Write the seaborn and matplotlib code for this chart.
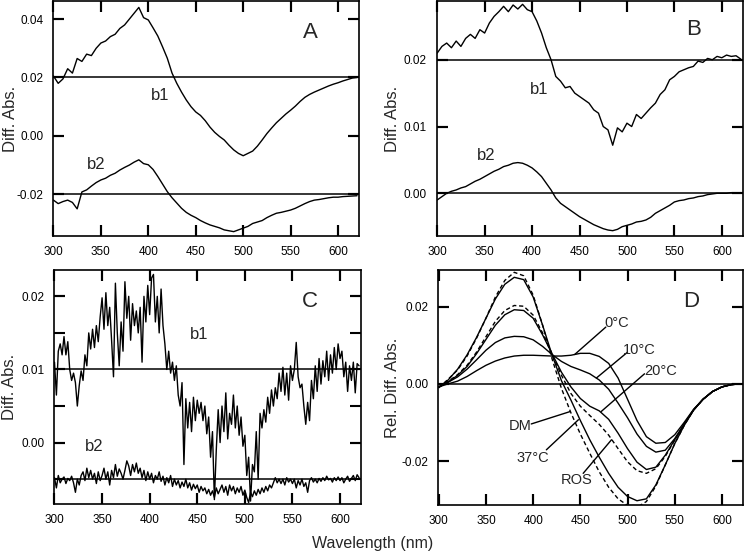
import numpy as np
import pandas as pd
import matplotlib
matplotlib.use("Agg")
import matplotlib.pyplot as plt
from matplotlib.ticker import MultipleLocator, FixedLocator, FormatStrFormatter
import seaborn as sns

# ---- data ----
wl5 = list(range(300, 621, 5))    # panels A, B
wl2 = list(range(300, 621, 2))    # panel C
wl10 = list(range(300, 621, 10))  # panel D

a_b1 = [0.0205, 0.0180, 0.0195, 0.0230, 0.0215, 0.0265, 0.0255, 0.0280, 0.0275, 0.0300,
        0.0318, 0.0325, 0.0340, 0.0348, 0.0368, 0.0380, 0.0400, 0.0420, 0.0440, 0.0405,
        0.0397, 0.0370, 0.0342, 0.0305, 0.0266, 0.0215, 0.0180, 0.0150, 0.0123, 0.0100,
        0.0082, 0.0070, 0.0052, 0.0030, 0.0012, -0.0002, -0.0014, -0.0032, -0.0048, -0.0060,
        -0.0068, -0.0060, -0.0052, -0.0035, -0.0014, 0.0008, 0.0027, 0.0045, 0.0060, 0.0075,
        0.0088, 0.0102, 0.0118, 0.0132, 0.0142, 0.0150, 0.0157, 0.0164, 0.0171, 0.0177,
        0.0182, 0.0188, 0.0193, 0.0198, 0.0200]
a_b2 = [-0.0220, -0.0232, -0.0225, -0.0220, -0.0228, -0.0250, -0.0192, -0.0185, -0.0172, -0.0160,
        -0.0151, -0.0145, -0.0135, -0.0128, -0.0117, -0.0108, -0.0100, -0.0090, -0.0082, -0.0095,
        -0.0099, -0.0115, -0.0139, -0.0165, -0.0191, -0.0212, -0.0230, -0.0248, -0.0262, -0.0272,
        -0.0280, -0.0290, -0.0298, -0.0305, -0.0310, -0.0315, -0.0322, -0.0325, -0.0328, -0.0322,
        -0.0316, -0.0310, -0.0300, -0.0295, -0.0290, -0.0280, -0.0272, -0.0265, -0.0262, -0.0258,
        -0.0254, -0.0248, -0.0240, -0.0232, -0.0225, -0.0220, -0.0218, -0.0215, -0.0212, -0.0210,
        -0.0210, -0.0208, -0.0207, -0.0206, -0.0205]

b_b1 = [0.0210, 0.0220, 0.0225, 0.0218, 0.0228, 0.0220, 0.0232, 0.0238, 0.0232, 0.0245,
        0.0240, 0.0255, 0.0265, 0.0272, 0.0280, 0.0272, 0.0282, 0.0276, 0.0283, 0.0275,
        0.0272, 0.0258, 0.0240, 0.0218, 0.0200, 0.0175, 0.0168, 0.0158, 0.0160, 0.0150,
        0.0145, 0.0140, 0.0135, 0.0125, 0.0120, 0.0100, 0.0095, 0.0072, 0.0098, 0.0092,
        0.0105, 0.0100, 0.0118, 0.0112, 0.0120, 0.0128, 0.0135, 0.0148, 0.0155, 0.0170,
        0.0175, 0.0182, 0.0185, 0.0188, 0.0190, 0.0198, 0.0196, 0.0202, 0.0200, 0.0205,
        0.0203, 0.0207, 0.0205, 0.0206, 0.0201]
b_b2 = [-0.0010, -0.0005, 0.0000, 0.0003, 0.0005, 0.0008, 0.0010, 0.0014, 0.0018, 0.0021,
        0.0025, 0.0029, 0.0033, 0.0036, 0.0040, 0.0042, 0.0045, 0.0046, 0.0045, 0.0042,
        0.0038, 0.0032, 0.0025, 0.0015, 0.0005, -0.0007, -0.0015, -0.0020, -0.0025, -0.0030,
        -0.0035, -0.0039, -0.0043, -0.0047, -0.0050, -0.0053, -0.0055, -0.0056, -0.0054, -0.0050,
        -0.0048, -0.0046, -0.0043, -0.0042, -0.0040, -0.0036, -0.0030, -0.0026, -0.0022, -0.0018,
        -0.0013, -0.0011, -0.0010, -0.0008, -0.0007, -0.0005, -0.0004, -0.0002, -0.0001, 0.0000,
        0.0000, 0.0000, 0.0001, 0.0000, 0.0001]

c_b1 = [0.0110, 0.0065, 0.0125, 0.0135, 0.0120, 0.0145, 0.0120, 0.0138, 0.0100, 0.0085,
        0.0095, 0.0082, 0.0050, 0.0078, 0.0098, 0.0085, 0.0120, 0.0105, 0.0150, 0.0128,
        0.0155, 0.0130, 0.0160, 0.0138, 0.0172, 0.0198, 0.0155, 0.0205, 0.0160, 0.0185,
        0.0140, 0.0090, 0.0218, 0.0150, 0.0105, 0.0165, 0.0125, 0.0220, 0.0170, 0.0200,
        0.0140, 0.0190, 0.0160, 0.0180, 0.0150, 0.0185, 0.0110, 0.0200, 0.0165, 0.0215,
        0.0175, 0.0225, 0.0230, 0.0165, 0.0200, 0.0150, 0.0210, 0.0160, 0.0135, 0.0100,
        0.0125, 0.0095, 0.0110, 0.0085, 0.0105, 0.0065, 0.0050, 0.0082, -0.0030, 0.0060,
        0.0020, 0.0055, 0.0015, 0.0062, 0.0030, 0.0058, 0.0040, 0.0055, 0.0030, 0.0050,
        0.0012, 0.0035, -0.0020, 0.0015, -0.0078, -0.0010, 0.0045, 0.0000, 0.0050, 0.0015,
        0.0068, 0.0005, 0.0040, 0.0025, 0.0065, 0.0020, 0.0050, 0.0010, 0.0035, -0.0005,
        0.0010, -0.0045, -0.0020, -0.0080, -0.0030, -0.0040, 0.0015, -0.0050, 0.0040, 0.0020,
        0.0045, 0.0028, 0.0062, 0.0040, 0.0072, 0.0050, 0.0075, 0.0060, 0.0095, 0.0070,
        0.0103, 0.0065, 0.0095, 0.0058, 0.0105, 0.0085, 0.0100, 0.0137, 0.0090, 0.0075,
        0.0080, 0.0050, 0.0025, 0.0055, 0.0030, 0.0085, 0.0060, 0.0105, 0.0070, 0.0115,
        0.0080, 0.0112, 0.0090, 0.0125, 0.0085, 0.0120, 0.0095, 0.0130, 0.0100, 0.0135,
        0.0115, 0.0125, 0.0090, 0.0110, 0.0070, 0.0105, 0.0085, 0.0110, 0.0068, 0.0108,
        0.0105]
c_b2 = [-0.0048, -0.0062, -0.0045, -0.0055, -0.0050, -0.0047, -0.0056, -0.0049, -0.0052, -0.0046,
        -0.0055, -0.0068, -0.0050, -0.0058, -0.0045, -0.0040, -0.0052, -0.0035, -0.0048, -0.0038,
        -0.0050, -0.0042, -0.0056, -0.0040, -0.0052, -0.0045, -0.0035, -0.0050, -0.0040, -0.0058,
        -0.0038, -0.0048, -0.0030, -0.0046, -0.0036, -0.0042, -0.0050, -0.0038, -0.0025, -0.0032,
        -0.0045, -0.0030, -0.0040, -0.0028, -0.0042, -0.0035, -0.0048, -0.0038, -0.0052, -0.0040,
        -0.0050, -0.0042, -0.0055, -0.0045, -0.0050, -0.0040, -0.0053, -0.0046, -0.0058, -0.0048,
        -0.0055, -0.0045, -0.0060, -0.0050, -0.0058, -0.0052, -0.0062, -0.0054, -0.0060, -0.0050,
        -0.0062, -0.0055, -0.0065, -0.0057, -0.0063, -0.0058, -0.0068, -0.0060, -0.0066, -0.0062,
        -0.0070, -0.0064, -0.0072, -0.0066, -0.0075, -0.0062, -0.0070, -0.0064, -0.0058, -0.0068,
        -0.0060, -0.0072, -0.0058, -0.0066, -0.0060, -0.0070, -0.0062, -0.0068, -0.0060, -0.0072,
        -0.0065, -0.0075, -0.0082, -0.0068, -0.0074, -0.0066, -0.0072, -0.0064, -0.0070, -0.0062,
        -0.0068, -0.0060, -0.0066, -0.0058, -0.0062, -0.0055, -0.0048, -0.0055, -0.0050, -0.0056,
        -0.0050, -0.0058, -0.0048, -0.0054, -0.0050, -0.0056, -0.0050, -0.0062, -0.0052, -0.0058,
        -0.0050, -0.0060, -0.0055, -0.0068, -0.0052, -0.0048, -0.0054, -0.0050, -0.0055, -0.0049,
        -0.0053, -0.0048, -0.0052, -0.0046, -0.0051, -0.0049, -0.0054, -0.0048, -0.0052, -0.0047,
        -0.0052, -0.0048, -0.0055, -0.0050, -0.0046, -0.0053, -0.0049, -0.0045, -0.0052, -0.0044,
        -0.0048]

d_0c = [-0.0008, 0.0000, 0.0007, 0.0019, 0.0034, 0.0048, 0.0059, 0.0067, 0.0072, 0.0074,
        0.0074, 0.0073, 0.0072, 0.0072, 0.0074, 0.0079, 0.0079, 0.0071, 0.0053, 0.0015,
        -0.0040, -0.0095, -0.0137, -0.0154, -0.0152, -0.0132, -0.0100, -0.0066, -0.0040, -0.0020,
        -0.0008, -0.0002, 0.0000]
d_10c = [-0.0008, 0.0004, 0.0018, 0.0038, 0.0062, 0.0087, 0.0107, 0.0119, 0.0123, 0.0122,
         0.0114, 0.0097, 0.0076, 0.0058, 0.0045, 0.0036, 0.0026, 0.0010, -0.0014, -0.0050,
         -0.0088, -0.0130, -0.0162, -0.0177, -0.0172, -0.0142, -0.0104, -0.0067, -0.0040, -0.0020,
         -0.0008, -0.0002, 0.0000]
d_20c = [-0.0008, 0.0005, 0.0022, 0.0045, 0.0078, 0.0115, 0.0152, 0.0179, 0.0192, 0.0190,
         0.0170, 0.0127, 0.0078, 0.0030, -0.0008, -0.0038, -0.0058, -0.0070, -0.0092, -0.0128,
         -0.0168, -0.0203, -0.0222, -0.0216, -0.0185, -0.0145, -0.0105, -0.0068, -0.0040, -0.0020,
         -0.0008, -0.0002, 0.0000]
d_ros = [-0.0008, 0.0006, 0.0024, 0.0048, 0.0082, 0.0122, 0.0162, 0.0190, 0.0203, 0.0201,
         0.0178, 0.0132, 0.0078, 0.0022, -0.0025, -0.0058, -0.0082, -0.0105, -0.0133, -0.0168,
         -0.0202, -0.0225, -0.0232, -0.0220, -0.0188, -0.0146, -0.0105, -0.0068, -0.0040, -0.0020,
         -0.0008, -0.0002, 0.0000]
d_37c = [-0.0010, 0.0010, 0.0038, 0.0075, 0.0120, 0.0170, 0.0220, 0.0258, 0.0276, 0.0270,
         0.0225, 0.0152, 0.0075, 0.0008, -0.0042, -0.0095, -0.0145, -0.0190, -0.0232, -0.0268,
         -0.0292, -0.0303, -0.0298, -0.0262, -0.0210, -0.0155, -0.0108, -0.0068, -0.0040, -0.0020,
         -0.0008, -0.0002, 0.0000]
d_dm = [-0.0010, 0.0012, 0.0036, 0.0072, 0.0118, 0.0170, 0.0225, 0.0268, 0.0289, 0.0280,
        0.0230, 0.0152, 0.0065, -0.0012, -0.0075, -0.0130, -0.0180, -0.0228, -0.0268, -0.0298,
        -0.0315, -0.0320, -0.0305, -0.0265, -0.0210, -0.0155, -0.0108, -0.0068, -0.0040, -0.0020,
        -0.0008, -0.0002, 0.0000]

d_names = ["0°C", "10°C", "20°C", "ROS", "37°C", "DM"]
d_dashed = [False, False, False, True, False, True]
# label text position, line start, line end (nm, value)
d_text = [(488, 0.0157), (512, 0.0088), (535, 0.0032), (446, -0.0249), (400, -0.0193), (386, -0.0110)]
d_from = [(477, 0.0147), (500, 0.0082), (518, 0.0026), (453, -0.0232), (414, -0.0171), (398, -0.0104)]
d_to = [(444, 0.0076), (467, 0.0015), (472, -0.0072), (483, -0.0145), (448, -0.0093), (439, -0.0072)]

x_ticks = [300, 350, 400, 450, 500, 550, 600]

sns.set_theme(style="ticks", rc={
    "xtick.direction": "in",
    "ytick.direction": "in",
    "xtick.top": True,
    "ytick.right": True,
})
plt.rcParams["font.family"] = ["Liberation Sans", "DejaVu Sans"]
plt.rcParams.update({
    "axes.unicode_minus": False,
    "axes.linewidth": 1.2,
    "axes.edgecolor": "black",
    "xtick.color": "black",
    "ytick.color": "black",
})

fig = plt.figure(figsize=(7.45, 5.53), dpi=100)
axA = fig.add_axes([0.0711, 0.5732, 0.4107, 0.425])
axB = fig.add_axes([0.5862, 0.5732, 0.4107, 0.425])
axC = fig.add_axes([0.0725, 0.0886, 0.412, 0.4231])
axD = fig.add_axes([0.5883, 0.0868, 0.4086, 0.425])

lw = 1.0


def style(ax, ylim, ystep, tick_vals, label_x, ylabel="Diff. Abs."):
    ax.set_xlim(299.5, 622)
    ax.set_ylim(*ylim)
    ax.xaxis.set_major_locator(MultipleLocator(50))
    ax.yaxis.set_major_locator(MultipleLocator(ystep))
    ax.yaxis.set_major_formatter(FormatStrFormatter("%.2f"))
    # tick marks: majors plus minors at the same spots
    ax.xaxis.remove_overlapping_locs = False
    ax.yaxis.remove_overlapping_locs = False
    ax.xaxis.set_minor_locator(FixedLocator(x_ticks))
    ax.yaxis.set_minor_locator(FixedLocator(tick_vals))
    ax.tick_params(which="both", direction="in", length=8, width=1.5, color="black",
                   bottom=True, top=True, left=True, right=True)
    ax.tick_params(which="major", labelsize=8.5, pad=7, labelcolor="black")
    ax.set_xlabel("")
    ax.set_ylabel(ylabel, fontsize=12)
    ax.yaxis.set_label_coords(label_x, 0.5)
    for s in ax.spines.values():
        s.set_visible(True)
        s.set_color("black")


# panel A
sns.lineplot(x=wl5, y=a_b1, ax=axA, color="black", lw=lw)
sns.lineplot(x=wl5, y=a_b2, ax=axA, color="black", lw=lw)
axA.axhline(0.02, color="black", lw=1.1)
axA.axhline(-0.02, color="black", lw=1.1)
style(axA, (-0.0343, 0.0462), 0.02, [-0.02, 0.0, 0.02, 0.04], -0.115)
axA.text(412, 0.014, "b1", fontsize=12, ha="center", va="center")
axA.text(345, -0.0099, "b2", fontsize=12, ha="center", va="center")
axA.text(0.84, 0.868, "A", transform=axA.transAxes, fontsize=16, ha="center", va="center")

# panel B
sns.lineplot(x=wl5, y=b_b1, ax=axB, color="black", lw=lw)
sns.lineplot(x=wl5, y=b_b2, ax=axB, color="black", lw=lw)
axB.axhline(0.02, color="black", lw=1.1)
axB.axhline(0.0, color="black", lw=1.1)
style(axB, (-0.0064, 0.0288), 0.01, [0.0, 0.01, 0.02], -0.12)
axB.text(408, 0.0155, "b1", fontsize=12, ha="center", va="center")
axB.text(352, 0.0056, "b2", fontsize=12, ha="center", va="center")
axB.text(0.839, 0.877, "B", transform=axB.transAxes, fontsize=16, ha="center", va="center")

# panel C
sns.lineplot(x=wl2, y=c_b1, ax=axC, color="black", lw=lw)
sns.lineplot(x=wl2, y=c_b2, ax=axC, color="black", lw=lw)
axC.axhline(0.01, color="black", lw=1.1)
axC.axhline(-0.005, color="black", lw=1.1)
style(axC, (-0.0084, 0.0236), 0.01, [-0.005, 0.0, 0.005, 0.01, 0.015, 0.02], -0.12)
axC.text(452, 0.0148, "b1", fontsize=12, ha="center", va="center")
axC.text(342, -0.0006, "b2", fontsize=12, ha="center", va="center")
axC.text(0.834, 0.865, "C", transform=axC.transAxes, fontsize=16, ha="center", va="center")

# panel D
for name, vals, dashed, tp, p0, p1 in zip(d_names, [d_0c, d_10c, d_20c, d_ros, d_37c, d_dm],
                                          d_dashed, d_text, d_from, d_to):
    sns.lineplot(x=wl10, y=vals, ax=axD, color="black", lw=lw,
                 linestyle=(0, (3, 2)) if dashed else "-")
    axD.plot([p0[0], p1[0]], [p0[1], p1[1]], color="black", lw=1.0)
    axD.text(tp[0], tp[1], name, fontsize=10.5, ha="center", va="center")
axD.axhline(0.0, color="black", lw=1.1)
style(axD, (-0.0314, 0.0295), 0.02, [-0.02, 0.0, 0.02], -0.125, ylabel="Rel. Diff. Abs.")
axD.text(0.832, 0.865, "D", transform=axD.transAxes, fontsize=16, ha="center", va="center")

fig.text(0.5, 0.018, "Wavelength (nm)", fontsize=11.5, ha="center", va="center")

fig.savefig("out.png", dpi=100)
